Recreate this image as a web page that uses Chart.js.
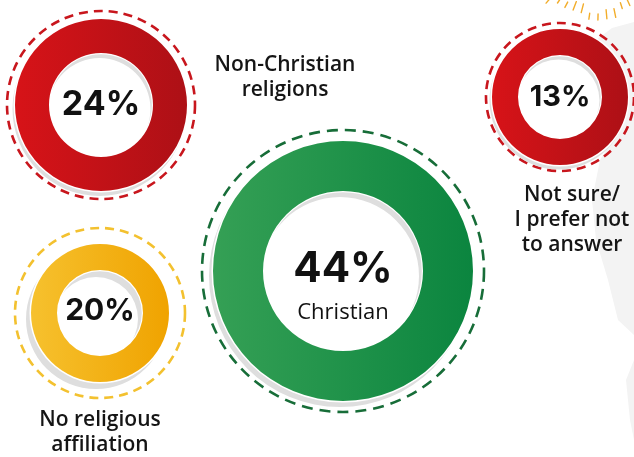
<!DOCTYPE html>
<html>
<head>
<meta charset="utf-8">
<script src="https://cdn.jsdelivr.net/npm/chart.js@4.4.1/dist/chart.umd.min.js"></script>
<style>
  html, body { margin: 0; padding: 0; background: #ffffff; }
  #stage { position: relative; width: 634px; height: 457px; overflow: hidden; background: #ffffff; }
  #stage canvas { position: absolute; }
  .lbl {
    position: absolute; text-align: center; color: #151515;
    font-family: "Open Sans", sans-serif; font-weight: 600; font-size: 21px; line-height: 25px;
    white-space: nowrap;
  }
</style>
</head>
<body>
<div id="stage">
  <canvas id="bg" width="634" height="457" style="left:0;top:0"></canvas>
</div>
<script>
// Share of respondents by religious affiliation
const categories = ['Non-Christian religions', 'Christian', 'Not sure/ I prefer not to answer', 'No religious affiliation'];
const shares = [24, 44, 13, 20];
const centerTags = ['', 'Christian', '', ''];

// Ring palettes (left -> right gradient) and dashed halo colours
const ringLeft  = ['#d71318', '#35a055', '#d71318', '#f6c12e'];
const ringRight = ['#ad1016', '#0b853f', '#ad1016', '#f0a300'];
const haloColor = ['#c8161d', '#176d38', '#c8161d', '#f3c12f'];

// Layout of each ring: centre, outer / inner radius, halo radius
const ringCx    = [101, 343, 560, 100];
const ringCy    = [105, 271, 97, 313];
const ringOuter = [86, 130, 68, 69];
const ringInner = [52, 80, 42, 43];
const haloR     = [94, 141, 74, 85];
const shadowDx  = [-1.5, -3, -1.5, -4];
const shadowDy  = [4, 5, 3.5, 6];
const pctFont   = [34, 42, 29, 30];
const pctDy     = [0, -2, 0, -2];

// Soft background decoration
(function () {
  const c = document.getElementById('bg').getContext('2d');
  c.fillStyle = '#f3f3f3';
  c.beginPath();
  c.moveTo(634, 22); c.lineTo(612, 28); c.lineTo(596, 40); c.lineTo(610, 58);
  c.lineTo(626, 92); c.lineTo(618, 130); c.lineTo(600, 160); c.lineTo(592, 200);
  c.lineTo(596, 240); c.lineTo(608, 280); c.lineTo(618, 320); c.lineTo(634, 335);
  c.closePath(); c.fill();
  c.beginPath();
  c.moveTo(634, 360); c.lineTo(626, 380); c.lineTo(630, 420); c.lineTo(634, 440);
  c.closePath(); c.fill();
  c.strokeStyle = '#f2ad2a'; c.lineWidth = 1.4; c.lineCap = 'round';
  const sx = 600, sy = -60;
  for (let a = 20; a <= 165; a += 6.5) {
    const t = a * Math.PI / 180;
    const r0 = 66 + (Math.round(a) % 3) * 4, r1 = r0 + 6 + (Math.round(a) % 2) * 3;
    const x0 = sx + Math.cos(t) * r0, y0 = sy + Math.sin(t) * r0;
    const x1 = sx + Math.cos(t) * r1, y1 = sy + Math.sin(t) * r1;
    if (y1 < 0 || x1 > 634) continue;
    c.beginPath(); c.moveTo(x0, y0); c.lineTo(x1, y1); c.stroke();
  }
})();

// Shadow, white gap, dashed halo and centre caption around each ring
const ringDecor = {
  id: 'ringDecor',
  beforeDatasetsDraw(chart, args, o) {
    const arc = chart.getDatasetMeta(0).data[0];
    const ctx = chart.ctx, x = arc.x, y = arc.y, R = arc.outerRadius, r = arc.innerRadius;
    ctx.save();
    ctx.setLineDash(o.dash);
    ctx.lineWidth = 2.6;
    ctx.strokeStyle = o.halo;
    ctx.beginPath(); ctx.arc(x, y, o.haloR, 0, Math.PI * 2); ctx.stroke();
    ctx.setLineDash([]);
    ctx.fillStyle = '#dedede';
    ctx.beginPath();
    ctx.arc(x + o.dx, y + o.dy, R + 1, 0, Math.PI * 2);
    ctx.arc(x + o.dx, y + o.dy, r - 1, 0, Math.PI * 2, true);
    ctx.fill();
    ctx.fillStyle = '#ffffff';
    ctx.beginPath();
    ctx.arc(x, y, R + 1.5, 0, Math.PI * 2);
    ctx.arc(x, y, r - 1.2, 0, Math.PI * 2, true);
    ctx.fill();
    ctx.restore();
  },
  afterDatasetsDraw(chart, args, o) {
    const arc = chart.getDatasetMeta(0).data[0];
    const ctx = chart.ctx;
    const v = chart.data.datasets[0].data[0];
    ctx.save();
    ctx.fillStyle = '#111111';
    ctx.textAlign = 'center';
    ctx.textBaseline = 'middle';
    ctx.font = '700 ' + o.font + 'px Inter, sans-serif';
    ctx.fillText(v + '%', arc.x, arc.y + o.dyText);
    if (o.tag) {
      ctx.font = '500 22px "Open Sans", sans-serif';
      ctx.fillText(o.tag, arc.x, arc.y + 42);
    }
    ctx.restore();
  }
};

const stage = document.getElementById('stage');
shares.forEach((v, i) => {
  const half = haloR[i] + 5;
  const side = half * 2;
  const cv = document.createElement('canvas');
  cv.width = side; cv.height = side;
  cv.style.width = side + 'px'; cv.style.height = side + 'px';
  cv.style.left = (ringCx[i] - half) + 'px';
  cv.style.top = (ringCy[i] - half) + 'px';
  stage.appendChild(cv);
  new Chart(cv, {
    type: 'doughnut',
    data: {
      labels: [categories[i]],
      datasets: [{
        data: [v],
        borderWidth: 0,
        backgroundColor: (ctx) => {
          const a = ctx.chart.chartArea;
          if (!a) return ringLeft[i];
          const g = ctx.chart.ctx.createLinearGradient(a.left + half - ringOuter[i], 0, a.left + half + ringOuter[i], 0);
          g.addColorStop(0, ringLeft[i]);
          g.addColorStop(1, ringRight[i]);
          return g;
        }
      }]
    },
    options: {
      responsive: false,
      animation: false,
      radius: ringOuter[i],
      cutout: (ringInner[i] / ringOuter[i] * 100) + '%',
      layout: { padding: 0 },
      events: [],
      plugins: {
        legend: { display: false },
        tooltip: { enabled: false },
        ringDecor: {
          halo: haloColor[i], haloR: haloR[i], dx: shadowDx[i], dy: shadowDy[i],
          dash: i === 1 ? [11, 7] : [9, 6], font: pctFont[i], dyText: pctDy[i], tag: centerTags[i]
        }
      }
    },
    plugins: [ringDecor]
  });
});

// Category captions placed beside the rings
const captionText = ['Non-Christian<br>religions', '', 'Not sure/<br>I prefer not<br>to answer', 'No religious<br>affiliation'];
const captionX = [285, 0, 572, 100];
const captionTop = [51, 0, 181, 406];
captionText.forEach((t, i) => {
  if (!t) return;
  const d = document.createElement('div');
  d.className = 'lbl';
  d.innerHTML = t;
  d.style.left = (captionX[i] - 100) + 'px';
  d.style.width = '200px';
  d.style.top = captionTop[i] + 'px';
  stage.appendChild(d);
});
</script>
</body>
</html>
